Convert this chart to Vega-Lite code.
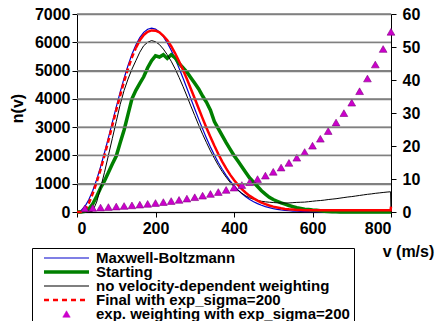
{
  "$schema": "https://vega.github.io/schema/vega-lite/v6.json",
  "width": 314,
  "height": 198,
  "autosize": {"type": "none"},
  "padding": {"left": 77, "top": 14, "right": 44, "bottom": 109},
  "background": "white",
  "config": {
    "view": {"stroke": null},
    "font": "Liberation Sans",
    "axis": {
      "labelFont": "Liberation Sans", "labelFontSize": 16, "labelFontWeight": "bold", "labelColor": "black",
      "titleFont": "Liberation Sans", "titleFontSize": 16, "titleFontWeight": "bold", "titleColor": "black",
      "domainColor": "black", "domainWidth": 1, "tickColor": "black", "tickSize": 5
    }
  },
  "datasets": {
    "gridlines": [{"g": 1000}, {"g": 2000}, {"g": 3000}, {"g": 4000}, {"g": 5000}, {"g": 6000}, {"g": 7000}],
    "curves": [
      {"v": 0, "mb": 0, "start": 0, "noweight": 0, "final": 0},
      {"v": 10, "mb": 49, "start": 0, "noweight": 0, "final": 0},
      {"v": 20, "mb": 194, "start": 20, "noweight": 0, "final": 50},
      {"v": 30, "mb": 430, "start": 100, "noweight": 0, "final": 300},
      {"v": 40, "mb": 749, "start": 280, "noweight": 30, "final": 650},
      {"v": 50, "mb": 1142, "start": 550, "noweight": 350, "final": 1050},
      {"v": 60, "mb": 1595, "start": 850, "noweight": 850, "final": 1500},
      {"v": 70, "mb": 2094, "start": 1100, "noweight": 1400, "final": 2000},
      {"v": 80, "mb": 2624, "start": 1400, "noweight": 2000, "final": 2520},
      {"v": 90, "mb": 3168, "start": 1700, "noweight": 2600, "final": 3060},
      {"v": 100, "mb": 3710, "start": 1980, "noweight": 3200, "final": 3600},
      {"v": 110, "mb": 4236, "start": 2450, "noweight": 3800, "final": 4120},
      {"v": 120, "mb": 4730, "start": 2900, "noweight": 4300, "final": 4620},
      {"v": 130, "mb": 5179, "start": 3450, "noweight": 4700, "final": 5070},
      {"v": 140, "mb": 5574, "start": 4000, "noweight": 5050, "final": 5470},
      {"v": 150, "mb": 5905, "start": 4300, "noweight": 5350, "final": 5800},
      {"v": 160, "mb": 6166, "start": 4550, "noweight": 5650, "final": 6070},
      {"v": 170, "mb": 6352, "start": 4780, "noweight": 5880, "final": 6260},
      {"v": 180, "mb": 6463, "start": 5100, "noweight": 6000, "final": 6370},
      {"v": 190, "mb": 6500, "start": 5350, "noweight": 6060, "final": 6420},
      {"v": 200, "mb": 6465, "start": 5520, "noweight": 6020, "final": 6410},
      {"v": 210, "mb": 6362, "start": 5480, "noweight": 5920, "final": 6350},
      {"v": 220, "mb": 6198, "start": 5560, "noweight": 5760, "final": 6230},
      {"v": 230, "mb": 5981, "start": 5430, "noweight": 5560, "final": 6070},
      {"v": 240, "mb": 5717, "start": 5560, "noweight": 5330, "final": 5860},
      {"v": 250, "mb": 5416, "start": 5450, "noweight": 5060, "final": 5610},
      {"v": 260, "mb": 5086, "start": 5250, "noweight": 4760, "final": 5330},
      {"v": 270, "mb": 4736, "start": 5100, "noweight": 4440, "final": 5030},
      {"v": 280, "mb": 4374, "start": 4950, "noweight": 4100, "final": 4700},
      {"v": 290, "mb": 4007, "start": 4750, "noweight": 3750, "final": 4360},
      {"v": 300, "mb": 3641, "start": 4550, "noweight": 3410, "final": 4010},
      {"v": 310, "mb": 3283, "start": 4350, "noweight": 3070, "final": 3660},
      {"v": 320, "mb": 2938, "start": 4100, "noweight": 2750, "final": 3310},
      {"v": 330, "mb": 2610, "start": 3880, "noweight": 2450, "final": 2970},
      {"v": 340, "mb": 2301, "start": 3600, "noweight": 2160, "final": 2650},
      {"v": 350, "mb": 2014, "start": 3200, "noweight": 1900, "final": 2340},
      {"v": 360, "mb": 1751, "start": 2950, "noweight": 1650, "final": 2050},
      {"v": 370, "mb": 1511, "start": 2700, "noweight": 1430, "final": 1780},
      {"v": 380, "mb": 1294, "start": 2450, "noweight": 1230, "final": 1540},
      {"v": 390, "mb": 1101, "start": 2220, "noweight": 1050, "final": 1320},
      {"v": 400, "mb": 931, "start": 2000, "noweight": 900, "final": 1130},
      {"v": 410, "mb": 781, "start": 1800, "noweight": 770, "final": 960},
      {"v": 420, "mb": 651, "start": 1600, "noweight": 660, "final": 810},
      {"v": 430, "mb": 540, "start": 1400, "noweight": 570, "final": 680},
      {"v": 440, "mb": 444, "start": 1200, "noweight": 500, "final": 570},
      {"v": 450, "mb": 363, "start": 1050, "noweight": 450, "final": 480},
      {"v": 460, "mb": 295, "start": 900, "noweight": 410, "final": 400},
      {"v": 470, "mb": 238, "start": 750, "noweight": 380, "final": 330},
      {"v": 480, "mb": 191, "start": 630, "noweight": 360, "final": 280},
      {"v": 490, "mb": 152, "start": 520, "noweight": 345, "final": 230},
      {"v": 500, "mb": 120, "start": 440, "noweight": 335, "final": 190},
      {"v": 510, "mb": 95, "start": 380, "noweight": 325, "final": 160},
      {"v": 520, "mb": 74, "start": 320, "noweight": 320, "final": 130},
      {"v": 530, "mb": 57, "start": 280, "noweight": 318, "final": 110},
      {"v": 540, "mb": 44, "start": 230, "noweight": 320, "final": 95},
      {"v": 550, "mb": 34, "start": 190, "noweight": 330, "final": 85},
      {"v": 560, "mb": 26, "start": 150, "noweight": 340, "final": 75},
      {"v": 570, "mb": 20, "start": 125, "noweight": 345, "final": 70},
      {"v": 580, "mb": 15, "start": 100, "noweight": 350, "final": 65},
      {"v": 590, "mb": 11, "start": 85, "noweight": 365, "final": 60},
      {"v": 600, "mb": 8, "start": 70, "noweight": 380, "final": 60},
      {"v": 610, "mb": 6, "start": 60, "noweight": 395, "final": 60},
      {"v": 620, "mb": 4, "start": 45, "noweight": 405, "final": 60},
      {"v": 630, "mb": 3, "start": 30, "noweight": 420, "final": 60},
      {"v": 640, "mb": 2, "start": 20, "noweight": 440, "final": 60},
      {"v": 650, "mb": 1, "start": 10, "noweight": 455, "final": 60},
      {"v": 660, "mb": 1, "start": 5, "noweight": 470, "final": 60},
      {"v": 670, "mb": 0, "start": 0, "noweight": 490, "final": 60},
      {"v": 680, "mb": 0, "start": 0, "noweight": 510, "final": 60},
      {"v": 690, "mb": 0, "start": 0, "noweight": 530, "final": 60},
      {"v": 700, "mb": 0, "start": 0, "noweight": 545, "final": 60},
      {"v": 710, "mb": 0, "start": 0, "noweight": 565, "final": 60},
      {"v": 720, "mb": 0, "start": 0, "noweight": 585, "final": 60},
      {"v": 730, "mb": 0, "start": 0, "noweight": 605, "final": 60},
      {"v": 740, "mb": 0, "start": 0, "noweight": 625, "final": 60},
      {"v": 750, "mb": 0, "start": 0, "noweight": 640, "final": 60},
      {"v": 760, "mb": 0, "start": 0, "noweight": 660, "final": 60},
      {"v": 770, "mb": 0, "start": 0, "noweight": 675, "final": 60},
      {"v": 780, "mb": 0, "start": 0, "noweight": 690, "final": 60},
      {"v": 790, "mb": 0, "start": 0, "noweight": 705, "final": 60},
      {"v": 799, "mb": 0, "start": 0, "noweight": 715, "final": 60},
      {"v": 800, "mb": 0, "start": 0, "noweight": 0, "final": 190}
    ],
    "weights": [
      {"v": 20, "w": 1.11}, {"v": 40, "w": 1.22}, {"v": 60, "w": 1.35}, {"v": 80, "w": 1.49},
      {"v": 100, "w": 1.65}, {"v": 120, "w": 1.82}, {"v": 140, "w": 2.01}, {"v": 160, "w": 2.23},
      {"v": 180, "w": 2.46}, {"v": 200, "w": 2.72}, {"v": 220, "w": 3.0}, {"v": 240, "w": 3.32},
      {"v": 260, "w": 3.67}, {"v": 280, "w": 4.06}, {"v": 300, "w": 4.48}, {"v": 320, "w": 4.95},
      {"v": 340, "w": 5.47}, {"v": 360, "w": 6.05}, {"v": 380, "w": 6.69}, {"v": 400, "w": 7.39},
      {"v": 420, "w": 8.17}, {"v": 440, "w": 9.03}, {"v": 460, "w": 9.97}, {"v": 480, "w": 11.02},
      {"v": 500, "w": 12.18}, {"v": 520, "w": 13.46}, {"v": 540, "w": 14.88}, {"v": 560, "w": 16.44},
      {"v": 580, "w": 18.17}, {"v": 600, "w": 20.09}, {"v": 620, "w": 22.2}, {"v": 640, "w": 24.53},
      {"v": 660, "w": 27.11}, {"v": 680, "w": 29.96}, {"v": 700, "w": 33.12}, {"v": 720, "w": 36.6},
      {"v": 740, "w": 40.45}, {"v": 760, "w": 44.7}, {"v": 780, "w": 49.4}, {"v": 800, "w": 54.6}
    ]
  },
  "layer": [
    {
      "data": {"name": "curves"},
      "mark": {"type": "line", "strokeWidth": 1.2},
      "encoding": {
        "x": {
          "field": "v", "type": "quantitative",
          "scale": {"domain": [0, 800], "nice": false},
          "axis": {
            "values": [0, 200, 400, 600, 800], "grid": false, "title": "v (m/s)",
            "titleX": 331, "titleY": 44, "titleAlign": "center", "titleBaseline": "alphabetic",
            "labelPadding": 3
          }
        },
        "y": {
          "field": "mb", "type": "quantitative",
          "scale": {"domain": [0, 7000], "nice": false},
          "axis": {
            "values": [0, 1000, 2000, 3000, 4000, 5000, 6000, 7000], "grid": true, "format": "d",
            "gridColor": "#808080", "gridWidth": 1.3, "gridOpacity": 1,
            "title": "n(v)", "titleX": -60, "titleY": 94, "titleAngle": -90,
            "titleAlign": "center", "titleBaseline": "middle", "labelPadding": 2
          }
        },
        "color": {
          "datum": "mb",
          "scale": {
            "domain": ["mb", "start", "noweight", "final", "tri"],
            "range": ["#0000cc", "#008000", "#000000", "#ff0000", "#cc00cc"]
          },
          "legend": {
            "title": null, "orient": "none", "legendX": -45, "legendY": 234, "direction": "vertical",
            "symbolType": "stroke", "symbolSize": 2025, "clipHeight": 12, "rowPadding": -3,
            "symbolOffset": 23, "labelOffset": 22, "padding": 4,
            "labelFont": "Liberation Sans", "labelFontSize": 15, "labelFontWeight": "bold",
            "labelColor": "black", "labelLimit": 500,
            "strokeColor": "black", "fillColor": "white",
            "labelExpr": "{'mb': 'Maxwell-Boltzmann', 'start': 'Starting', 'noweight': 'no velocity-dependent weighting', 'final': 'Final with exp_sigma=200', 'tri': 'exp. weighting with exp_sigma=200'}[datum.value]",
            "encode": {
              "symbols": {
                "update": {
                  "shape": {"signal": "datum.value === 'tri' ? 'triangle-up' : 'stroke'"},
                  "size": {"signal": "datum.value === 'tri' ? 55 : 2025"},
                  "strokeWidth": {"signal": "datum.value === 'start' ? 3.5 : datum.value === 'final' ? 2.5 : datum.value === 'tri' ? 0.6 : 1.2"},
                  "strokeDash": {"signal": "datum.value === 'final' ? [5, 4] : [1, 0]"},
                  "fill": {"signal": "datum.value === 'tri' ? '#cc00cc' : 'transparent'"},
                  "stroke": {"signal": "datum.value === 'tri' ? '#800080' : datum.value === 'mb' ? '#0000cc' : datum.value === 'start' ? '#008000' : datum.value === 'final' ? '#ff0000' : '#000000'"}
                }
              }
            }
          }
        }
      }
    },
    {
      "data": {"name": "curves"},
      "mark": {"type": "line", "strokeWidth": 3.5},
      "encoding": {
        "x": {"field": "v", "type": "quantitative"},
        "y": {"field": "start", "type": "quantitative", "scale": {"domain": [0, 7000], "nice": false}, "axis": null},
        "color": {"datum": "start"}
      }
    },
    {
      "data": {"name": "curves"},
      "mark": {"type": "line", "strokeWidth": 1},
      "encoding": {
        "x": {"field": "v", "type": "quantitative"},
        "y": {"field": "noweight", "type": "quantitative", "scale": {"domain": [0, 7000], "nice": false}, "axis": null},
        "color": {"datum": "noweight"}
      }
    },
    {
      "data": {"name": "curves"},
      "transform": [{"filter": "datum.v <= 150"}],
      "mark": {"type": "line", "strokeWidth": 2.5, "strokeDash": [5, 3]},
      "encoding": {
        "x": {"field": "v", "type": "quantitative"},
        "y": {"field": "final", "type": "quantitative", "scale": {"domain": [0, 7000], "nice": false}, "axis": null},
        "color": {"datum": "final"}
      }
    },
    {
      "data": {"name": "curves"},
      "transform": [{"filter": "datum.v >= 150"}],
      "mark": {"type": "line", "strokeWidth": 2.5},
      "encoding": {
        "x": {"field": "v", "type": "quantitative"},
        "y": {"field": "final", "type": "quantitative", "scale": {"domain": [0, 7000], "nice": false}, "axis": null},
        "color": {"datum": "final"}
      }
    },
    {
      "data": {"name": "weights"},
      "mark": {"type": "point", "shape": "triangle-up", "filled": true, "size": 60, "stroke": "#800080", "strokeWidth": 0.6, "opacity": 1},
      "encoding": {
        "x": {"field": "v", "type": "quantitative"},
        "y": {
          "field": "w", "type": "quantitative",
          "scale": {"domain": [0, 60], "nice": false},
          "axis": {"orient": "right", "values": [0, 10, 20, 30, 40, 50, 60], "grid": false, "title": null, "labelPadding": 6}
        },
        "color": {"datum": "tri"}
      }
    },
    {
      "data": {"name": "gridlines"},
      "mark": {"type": "rule", "stroke": "#808080", "strokeWidth": 1.3, "opacity": 1},
      "encoding": {
        "x": {"datum": 0, "type": "quantitative"},
        "x2": {"datum": 800},
        "y": {"field": "g", "type": "quantitative", "scale": {"domain": [0, 7000], "nice": false}, "axis": null}
      }
    }
  ],
  "resolve": {"scale": {"y": "independent"}}
}
